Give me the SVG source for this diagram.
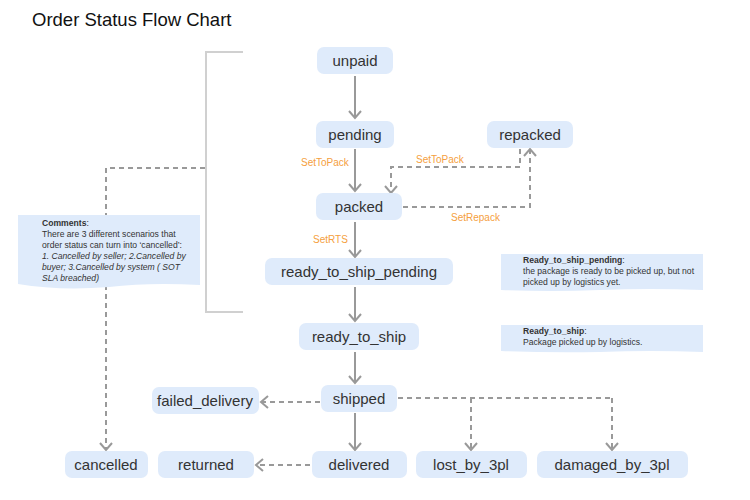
<svg xmlns="http://www.w3.org/2000/svg" width="750" height="500" viewBox="0 0 750 500">
<defs>
<marker id="arr" markerUnits="userSpaceOnUse" markerWidth="14" markerHeight="14" refX="11" refY="7" orient="auto">
<path d="M4,1 L11,7 L4,13" fill="none" stroke="#999" stroke-width="2"/>
</marker>
<style>
.node rect{fill:#dfebfb;stroke:none}
.node text{font-family:"Liberation Sans",Arial,sans-serif;font-size:15px;fill:#333;text-anchor:middle}
.solid{stroke:#999;stroke-width:2;fill:none;marker-end:url(#arr)}
.dash{stroke:#999;stroke-width:2;fill:none;stroke-dasharray:5 4}
.dasharr{stroke:#999;stroke-width:2;fill:none;stroke-dasharray:5 4;marker-end:url(#arr)}
.lbl{font-family:"Liberation Sans",Arial,sans-serif;font-size:10px;fill:#f5a040}
.note{font-family:"Liberation Sans",Arial,sans-serif;font-size:8.6px;fill:#333}
.noteb{font-weight:bold}
.notei{font-style:italic}
</style>
</defs>
<rect width="750" height="500" fill="#fff"/>
<text x="32" y="26" font-family="Liberation Sans,Arial,sans-serif" font-size="18.5" fill="#111">Order Status Flow Chart</text>

<path d="M243,52 H206 V312 H243" stroke="#d0d0d0" stroke-width="2" fill="none"/>

<g id="connectors">
<path class="solid" d="M355,76 V118"/>
<path class="solid" d="M355,149 V191"/>
<path class="solid" d="M355,222 V257"/>
<path class="solid" d="M355,287 V321"/>
<path class="solid" d="M355,352 V383"/>
<path class="solid" d="M355,413 V450"/>
<path class="dasharr" d="M520,149 V167 H391 V193"/>
<path class="dasharr" d="M403,207 H530 V149"/>
<path class="dasharr" d="M205,168 H106 V450"/>
<path class="dasharr" d="M320,402 H261"/>
<path class="dasharr" d="M310,465 H256"/>
<path class="dash" d="M398,398 H612"/>
<path class="dasharr" d="M612,398 V450"/>
<path class="dasharr" d="M471,398 V450"/>
</g>

<text class="lbl" x="301" y="166">SetToPack</text>
<text class="lbl" x="416" y="163">SetToPack</text>
<text class="lbl" x="451" y="221">SetRepack</text>
<text class="lbl" x="313" y="243">SetRTS</text>

<g id="comment">
<path d="M18,215 H200 V285 Q150,282 109,287 Q60,291 18,284 Z" fill="#dfebfb"/>
<text class="note" x="42" y="226"><tspan class="noteb">Comments</tspan>:</text>
<text class="note" x="42" y="237">There are 3 different scenarios that</text>
<text class="note" x="42" y="248">order status can turn into ‘cancelled’:</text>
<text class="note notei" x="42" y="259">1. Cancelled by seller; 2.Cancelled by</text>
<text class="note notei" x="42" y="270">buyer; 3.Cancelled by system ( SOT</text>
<text class="note notei" x="42" y="281">SLA breached)</text>
</g>

<g id="note_rtsp">
<path d="M501,254 H703 V290 Q650,288 600,290 Q550,292 501,290 Z" fill="#dfebfb"/>
<text class="note noteb" x="523" y="263">Ready_to_ship_pending<tspan font-weight="normal">:</tspan></text>
<text class="note" x="523" y="274">the package is ready to be picked up, but not</text>
<text class="note" x="523" y="285">picked up by logistics yet.</text>
</g>

<g id="note_rts">
<path d="M501,325 H703 V352 Q650,350 600,352 Q550,353 501,351 Z" fill="#dfebfb"/>
<text class="note noteb" x="523" y="334">Ready_to_ship<tspan font-weight="normal">:</tspan></text>
<text class="note" x="523" y="345">Package picked up by logistics.</text>
</g>

<g id="unpaid" class="node"><rect x="317" y="47" width="76" height="27" rx="7"/><text x="355" y="66">unpaid</text></g>
<g id="pending" class="node"><rect x="316" y="121" width="78" height="27" rx="7"/><text x="355" y="140">pending</text></g>
<g id="repacked" class="node"><rect x="487" y="121" width="86" height="27" rx="7"/><text x="530" y="140">repacked</text></g>
<g id="packed" class="node"><rect x="316" y="193" width="86" height="27" rx="7"/><text x="359" y="212">packed</text></g>
<g id="ready_to_ship_pending" class="node"><rect x="265" y="258" width="188" height="27" rx="7"/><text x="359" y="277">ready_to_ship_pending</text></g>
<g id="ready_to_ship" class="node"><rect x="299" y="323" width="120" height="27" rx="7"/><text x="359" y="342">ready_to_ship</text></g>
<g id="shipped" class="node"><rect x="321" y="385" width="76" height="27" rx="7"/><text x="359" y="404">shipped</text></g>
<g id="failed_delivery" class="node"><rect x="152" y="387" width="107" height="27" rx="7"/><text x="205" y="406">failed_delivery</text></g>
<g id="delivered" class="node"><rect x="312" y="451" width="95" height="27" rx="7"/><text x="359" y="470">delivered</text></g>
<g id="returned" class="node"><rect x="158" y="451" width="96" height="27" rx="7"/><text x="206" y="470">returned</text></g>
<g id="cancelled" class="node"><rect x="65" y="451" width="83" height="27" rx="7"/><text x="106" y="470">cancelled</text></g>
<g id="lost_by_3pl" class="node"><rect x="416" y="451" width="111" height="27" rx="7"/><text x="471" y="470">lost_by_3pl</text></g>
<g id="damaged_by_3pl" class="node"><rect x="537" y="451" width="151" height="27" rx="7"/><text x="612" y="470">damaged_by_3pl</text></g>
</svg>
